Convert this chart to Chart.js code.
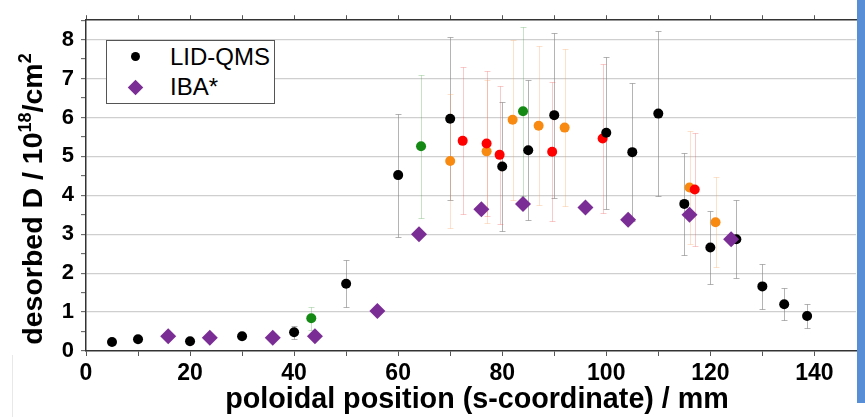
<!DOCTYPE html>
<html>
<head>
<meta charset="utf-8">
<script src="https://cdn.jsdelivr.net/npm/chart.js@4.4.1/dist/chart.umd.min.js"></script>
<style>
  body { margin: 0; width: 865px; height: 417px; overflow: hidden; position: relative; background: #fff; }
  #chart { position: absolute; left: 0; top: 0; }
  #legend { position: absolute; left: 106px; top: 40px; width: 167px; height: 62px; border: 1px solid #555; background: #fff;
            font: 24px "Liberation Sans", Arial, sans-serif; color: #000; }
  #legend span { position: absolute; }
  .lbl { line-height: 28px; white-space: nowrap; }
  #bluebar { position: absolute; left: 857px; top: 0; width: 8px; height: 403px; background: #588ed6; }
  #edge { position: absolute; left: 12px; top: 355px; width: 1px; height: 62px; background: #e8e8e8; }
</style>
</head>
<body>
<canvas id="chart" width="865" height="417"></canvas>
<div id="legend">
  <span style="left:24px;top:11px;width:9px;height:9px;border-radius:50%;background:#000"></span>
  <span class="lbl" style="left:63px;top:2px">LID-QMS</span>
  <span style="left:23px;top:41px;width:11px;height:11px;background:#7b2d96;transform:rotate(45deg)"></span>
  <span class="lbl" style="left:63px;top:32px">IBA*</span>
</div>
<div id="bluebar"></div>
<div id="edge"></div>
<script>
// desorbed deuterium vs poloidal position

// LID-QMS (black) with symmetric error
var lidX   = [5, 10, 20, 30, 40, 50, 60, 70, 80, 85, 90, 100, 105, 110, 115, 120, 125, 130, 134.2, 138.6];
var lidY   = [0.23, 0.3, 0.25, 0.38, 0.48, 1.73, 4.52, 5.97, 4.74, 5.16, 6.06, 5.61, 5.11, 6.1, 3.78, 2.66, 2.87, 1.66, 1.2, 0.9];
var lidErr = [0, 0, 0, 0, 0.16, 0.6, 1.58, 2.1, 1.66, 1.8, 2.12, 1.95, 1.78, 2.12, 1.32, 0.93, 1.0, 0.58, 0.41, 0.3];

// extra LID-QMS runs (green / red / orange)
var greenX   = [43.3, 64.4, 84];
var greenY   = [0.84, 5.26, 6.16];
var greenErr = [0.3, 1.84, 2.17];

var redX   = [72.4, 77, 79.5, 89.6, 99.3, 117];
var redY   = [5.4, 5.33, 5.04, 5.12, 5.46, 4.15];
var redErr = [1.89, 1.86, 1.77, 1.78, 1.92, 1.45];

var orangeX   = [70, 77, 82, 87, 92, 116, 121];
var orangeY   = [4.88, 5.13, 5.94, 5.79, 5.74, 4.2, 3.31];
var orangeErr = [1.72, 1.83, 2.06, 2.04, 2.02, 1.46, 1.16];

// IBA* (purple diamonds)
var ibaX = [15.8, 23.8, 35.9, 44, 56, 64, 76, 84, 96, 104.2, 116, 124];
var ibaY = [0.38, 0.34, 0.34, 0.38, 1.03, 3.0, 3.64, 3.78, 3.69, 3.37, 3.5, 2.87];

var xMin = 0, xMax = 148, yMin = 0, yMax = 8.5;

var FONT = '"Liberation Sans", Arial, sans-serif';

function pts(xs, ys) {
  return xs.map(function (x, i) { return { x: x, y: ys[i] }; });
}

function isMultiple(v, step) {
  return Math.abs(Math.round(v / step) * step - v) < 1e-6;
}

// error bars drawn under the markers, through the chart's own scales
var errorBars = {
  id: 'errorBars',
  beforeDatasetsDraw: function (chart) {
    var ctx = chart.ctx, a = chart.chartArea;
    var xs = chart.scales.x, ys = chart.scales.y;
    ctx.save();
    ctx.beginPath();
    ctx.rect(a.left, a.top, a.right - a.left, a.bottom - a.top);
    ctx.clip();
    ctx.lineWidth = 1;
    chart.data.datasets.forEach(function (ds) {
      if (!ds.errors) return;
      ctx.strokeStyle = ds.errorColor;
      ds.data.forEach(function (p, i) {
        var e = ds.errors[i];
        if (!e) return;
        var px = Math.round(xs.getPixelForValue(p.x)) + 0.5;
        var t = Math.round(ys.getPixelForValue(p.y + e)) + 0.5;
        var b = Math.round(ys.getPixelForValue(p.y - e)) + 0.5;
        ctx.beginPath();
        ctx.moveTo(px, t); ctx.lineTo(px, b);
        ctx.moveTo(px - 3, t); ctx.lineTo(px + 3, t);
        ctx.moveTo(px - 3, b); ctx.lineTo(px + 3, b);
        ctx.stroke();
      });
    });
    ctx.restore();
  }
};

// axis titles (y title needs superscripts)
var axisTitles = {
  id: 'axisTitles',
  afterDraw: function (chart) {
    var ctx = chart.ctx;
    ctx.save();
    ctx.fillStyle = '#000';
    ctx.textBaseline = 'alphabetic';

    ctx.font = 'bold 28.7px ' + FONT;
    ctx.textAlign = 'center';
    ctx.fillText('poloidal position (s-coordinate) / mm', 477, 408);

    var big = 'bold 28.5px ' + FONT, small = 'bold 18px ' + FONT;
    var parts = [['desorbed D / 10', big, 0], ['18', small, -11], ['/cm', big, 0], ['2', small, -11]];
    var total = 0;
    parts.forEach(function (p) { ctx.font = p[1]; p.push(ctx.measureText(p[0]).width); total += p[3]; });
    ctx.translate(41.5, 199);
    ctx.rotate(-Math.PI / 2);
    ctx.textAlign = 'left';
    var cx = -total / 2;
    parts.forEach(function (p) {
      ctx.font = p[1];
      ctx.fillText(p[0], cx, p[2]);
      cx += p[3];
    });
    ctx.restore();
  }
};

function tens(scale) {
  scale.ticks = scale.ticks.filter(function (t) { return isMultiple(t.value, 10); });
}

new Chart(document.getElementById('chart'), {
  type: 'scatter',
  data: {
    datasets: [
      { label: 'IBA*', data: pts(ibaX, ibaY), pointStyle: 'rectRot', pointRadius: 8,
        backgroundColor: '#7b2d96', borderWidth: 0, order: 1 },
      { label: 'LID-QMS', data: pts(lidX, lidY), errors: lidErr, errorColor: 'rgba(130,130,130,0.6)',
        pointRadius: 5, backgroundColor: '#000', borderWidth: 0, order: 2 },
      { label: 'LID-QMS green', data: pts(greenX, greenY), errors: greenErr, errorColor: 'rgba(70,160,70,0.3)',
        pointRadius: 5, backgroundColor: '#148a14', borderWidth: 0, order: 3 },
      { label: 'LID-QMS red', data: pts(redX, redY), errors: redErr, errorColor: 'rgba(235,80,80,0.3)',
        pointRadius: 5, backgroundColor: '#ff0000', borderWidth: 0, order: 4 },
      { label: 'LID-QMS orange', data: pts(orangeX, orangeY), errors: orangeErr, errorColor: 'rgba(245,160,90,0.3)',
        pointRadius: 5, backgroundColor: '#f88a12', borderWidth: 0, order: 5 }
    ]
  },
  options: {
    responsive: false,
    animation: false,
    events: [],
    layout: { padding: { left: 0, right: 9, top: 0, bottom: 0 } },
    plugins: { legend: { display: false }, tooltip: { enabled: false } },
    scales: {
      x: {
        type: 'linear', position: 'bottom', min: xMin, max: xMax,
        afterBuildTicks: tens,
        afterFit: function (s) { s.height = 66; },
        ticks: {
          stepSize: 10, includeBounds: false, autoSkip: false, maxRotation: 0, padding: 4, color: '#000',
          font: { family: FONT, size: 23, weight: 'bold' },
          callback: function (v) { return isMultiple(v, 20) ? String(Math.round(v)) : ''; }
        },
        grid: { drawOnChartArea: false, drawTicks: true, tickLength: 5, tickColor: '#555', tickWidth: 1 },
        border: { color: '#333', width: 1.5 }
      },
      x2: {
        type: 'linear', position: 'top', min: xMin, max: xMax,
        afterBuildTicks: tens,
        afterFit: function (s) { s.height = 13; },
        ticks: { stepSize: 10, includeBounds: false, display: false },
        grid: { drawOnChartArea: false, drawTicks: true, tickLength: 5, tickColor: '#555', tickWidth: 1 },
        border: { color: '#333', width: 1.5 }
      },
      y: {
        type: 'linear', min: yMin, max: yMax,
        afterFit: function (s) { s.width = 86; },
        ticks: {
          stepSize: 0.5, autoSkip: false, padding: 7, color: '#000',
          font: { family: FONT, size: 22, weight: 'bold' },
          callback: function (v) { return isMultiple(v, 1) ? String(Math.round(v)) : ''; }
        },
        grid: {
          color: function (c) { return (c.tick && isMultiple(c.tick.value, 1) && c.tick.value > 0) ? '#cfcfcf' : 'rgba(0,0,0,0)'; },
          lineWidth: 1.3, drawTicks: true, tickLength: 5, tickColor: '#555', tickWidth: 1
        },
        border: { color: '#333', width: 1.5 }
      }
    }
  },
  plugins: [errorBars, axisTitles]
});
</script>
</body>
</html>
